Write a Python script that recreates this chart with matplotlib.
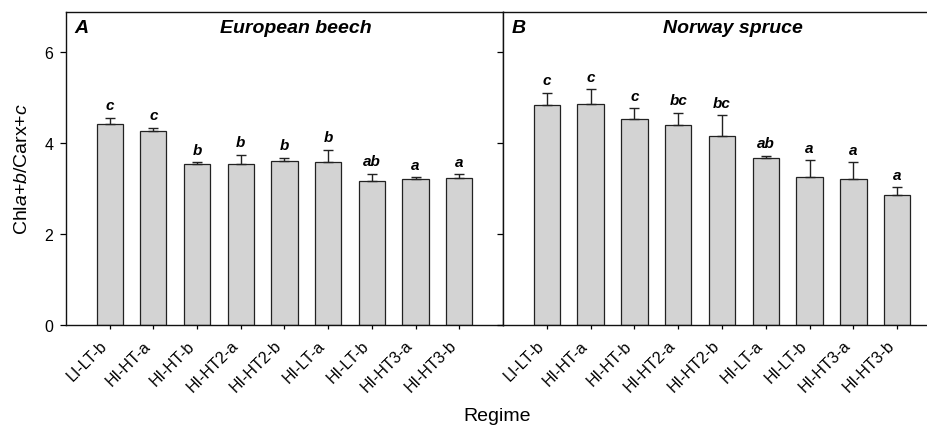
import numpy as np
from matplotlib import pyplot as plt

plt.rcParams['font.family'] = ['Liberation Sans', 'DejaVu Sans']
plt.rcParams['mathtext.fontset'] = 'custom'
plt.rcParams['mathtext.rm'] = 'Liberation Sans'
plt.rcParams['mathtext.it'] = 'Liberation Sans:italic'

regimes = ["LI-LT-b", "HI-HT-a", "HI-HT-b", "HI-HT2-a", "HI-HT2-b",
           "HI-LT-a", "HI-LT-b", "HI-HT3-a", "HI-HT3-b"]

beech_mean = [4.42, 4.27, 3.53, 3.53, 3.60, 3.58, 3.17, 3.22, 3.23]
beech_se = [0.13, 0.07, 0.05, 0.21, 0.08, 0.27, 0.16, 0.03, 0.08]
beech_letters = ["c", "c", "b", "b", "b", "b", "ab", "a", "a"]

spruce_mean = [4.83, 4.85, 4.52, 4.40, 4.16, 3.66, 3.25, 3.22, 2.85]
spruce_se = [0.27, 0.33, 0.24, 0.27, 0.45, 0.06, 0.37, 0.36, 0.18]
spruce_letters = ["c", "c", "c", "bc", "bc", "ab", "a", "a", "a"]

panels = [("A", "European beech", beech_mean, beech_se, beech_letters),
          ("B", "Norway spruce", spruce_mean, spruce_se, spruce_letters)]

fig = plt.figure(figsize=(9.28, 4.27), dpi=100)
ax_a = fig.add_axes([0.0711, 0.2365, 0.4709, 0.7331])
ax_b = fig.add_axes([0.5420, 0.2365, 0.4720, 0.7331])

x = np.arange(1, len(regimes) + 1)

for ax, (tag, title, mean, se, letters) in zip([ax_a, ax_b], panels):
    ax.bar(x, mean, width=0.6, color="#d3d3d3", edgecolor="#222222", linewidth=0.9, zorder=2)
    ax.errorbar(x, mean, yerr=[np.zeros(len(se)), se], fmt="none", ecolor="#222222",
                elinewidth=1.0, capsize=3.6, capthick=1.0, zorder=3)
    for xi, m, s, lab in zip(x, mean, se, letters):
        ax.annotate(lab, (xi, m + s), xytext=(0, 4), textcoords="offset points",
                    ha="center", va="bottom", fontsize=11, fontweight="bold", fontstyle="italic")

    ax.text(0.02, 0.952, tag, transform=ax.transAxes, ha="left", va="center",
            fontsize=14, fontweight="bold", fontstyle="italic")
    ax.text(0.525, 0.952, title, transform=ax.transAxes, ha="center", va="center",
            fontsize=14, fontweight="bold", fontstyle="italic")

    ax.set_xlim(0, 10)
    ax.set_ylim(0, 6.88)
    ax.set_yticks([0, 2, 4, 6])
    ax.set_xticks(x)
    ax.set_xticklabels(regimes, rotation=45, ha="right", fontsize=11.5)
    ax.tick_params(axis="x", direction="out", length=3, width=0.9, pad=6)
    ax.tick_params(axis="y", direction="out", length=4, width=0.9, pad=5, labelsize=11.5)
    for sp in ax.spines.values():
        sp.set_linewidth(1.0)
        sp.set_color("#111111")

ax_b.tick_params(axis="y", labelleft=False)

ax_a.set_ylabel(r"Chl$\mathit{a}$+$\mathit{b}$/Carx+$\mathit{c}$", fontsize=14, labelpad=10)
fig.text(0.536, 0.025, "Regime", ha="center", va="center", fontsize=14)

plt.savefig("out.png", dpi=100)
